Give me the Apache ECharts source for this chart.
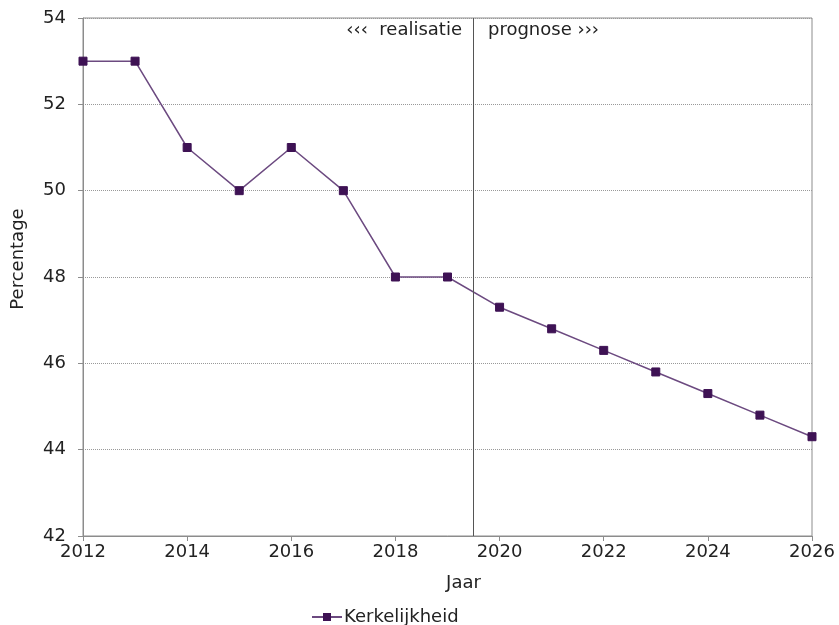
<!DOCTYPE html>
<html><head><meta charset="utf-8">
<script src="https://cdn.jsdelivr.net/npm/echarts@6/dist/echarts.min.js"></script>
<style>html,body{margin:0;padding:0;background:#fff}#c{width:839px;height:625px}</style>
</head><body><div id="c"></div>
<script>
const years = [2012,2013,2014,2015,2016,2017,2018,2019,2020,2021,2022,2023,2024,2025,2026];
const kerkelijkheid = [53,53,51,50,51,50,48,48,47.3,46.8,46.3,45.8,45.3,44.8,44.3];
const seriesName = 'Kerkelijkheid';
const splitYear = 2019.5;
const leftNote = '‹‹‹  realisatie';
const rightNote = 'prognose ›››';

const font = '"DejaVu Sans", Verdana, sans-serif';
const fs = 18;
const chart = echarts.init(document.getElementById('c'));
chart.setOption({
  animation: false,
  grid: {left: 83, right: 27, top: 18, bottom: 89, show: true, borderColor: '#8c8c8c', borderWidth: 1},
  xAxis: {
    type: 'value', min: 2012, max: 2026, interval: 2,
    name: 'Jaar', nameLocation: 'middle', nameGap: 38,
    nameTextStyle: {fontFamily: font, fontSize: fs, color: '#222', padding: [0, 0, 0, 32]},
    axisLine: {lineStyle: {color: '#8c8c8c'}},
    axisTick: {show: true, length: 5, lineStyle: {color: '#8c8c8c'}},
    axisLabel: {fontFamily: font, fontSize: fs, color: '#222', margin: 7, formatter: v => String(v)},
    splitLine: {show: false}
  },
  yAxis: {
    type: 'value', min: 42, max: 54, interval: 2,
    name: 'Percentage', nameLocation: 'middle', nameGap: 56,
    nameTextStyle: {fontFamily: font, fontSize: fs, color: '#222', padding: [0, 0, 0, 36]},
    axisLine: {show: true, lineStyle: {color: '#8c8c8c'}},
    axisTick: {show: true, length: 5, lineStyle: {color: '#8c8c8c'}},
    axisLabel: {fontFamily: font, fontSize: fs, color: '#222', margin: 17},
    splitLine: {show: true, lineStyle: {color: '#999', type: [1, 1], width: 1}}
  },
  legend: {
    top: 603, left: 306, itemWidth: 30, itemHeight: 10, itemGap: 4,
    textStyle: {fontFamily: font, fontSize: fs, color: '#222', padding: [0, 0, 0, -3]},
    data: [seriesName]
  },
  series: [{
    name: seriesName, type: 'line',
    data: years.map((y, i) => [y, kerkelijkheid[i]]),
    symbol: 'rect', symbolSize: 8,
    lineStyle: {color: '#6c4a80', width: 1.5},
    itemStyle: {color: '#3e1254', borderColor: '#3e1254'},
    markLine: {
      silent: true, symbol: 'none',
      lineStyle: {color: '#555', type: 'solid', width: 1},
      label: {show: false},
      data: [{xAxis: splitYear}]
    }
  }],
  graphic: [
    {type: 'text', right: 839 - 462, top: 21, style: {text: leftNote, font: fs + 'px ' + font, fill: '#222'}},
    {type: 'text', left: 488, top: 21, style: {text: rightNote, font: fs + 'px ' + font, fill: '#222'}}
  ]
});
</script></body></html>
